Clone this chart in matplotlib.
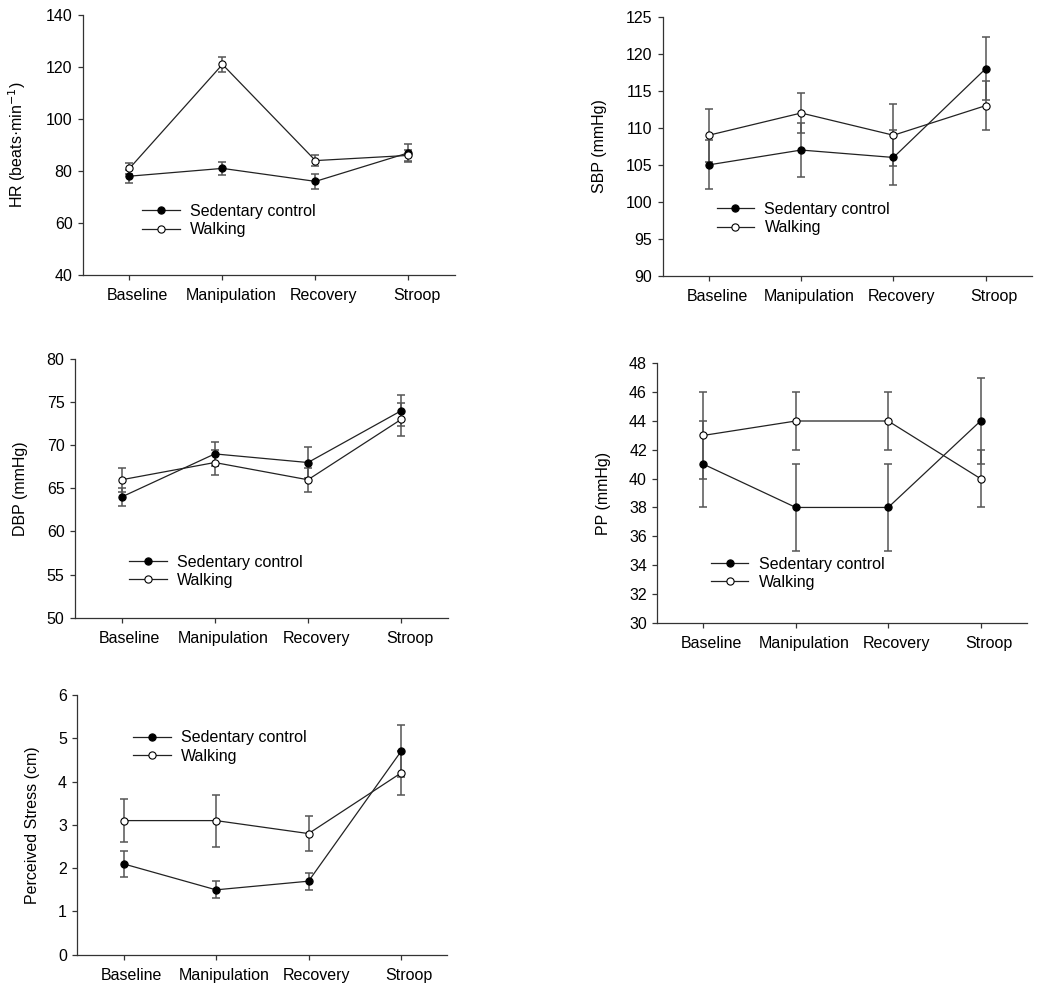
import matplotlib
matplotlib.use("Agg")
import matplotlib.pyplot as plt
from matplotlib.transforms import ScaledTranslation

plt.rcParams['font.family'] = ['Liberation Sans', 'DejaVu Sans']

phases = ["Baseline", "Manipulation", "Recovery", "Stroop"]
series_names = ["Sedentary control", "Walking"]

hr_sed = [78, 81, 76, 87]
hr_sed_err = [2.5, 2.5, 3.0, 3.4]
hr_walk = [81, 121, 84, 86]
hr_walk_err = [2.0, 3.0, 2.0, 2.0]

sbp_sed = [105, 107, 106, 118]
sbp_sed_err = [3.3, 3.7, 3.7, 4.2]
sbp_walk = [109, 112, 109, 113]
sbp_walk_err = [3.6, 2.7, 4.2, 3.3]

dbp_sed = [64, 69, 68, 74]
dbp_sed_err = [1.1, 1.4, 1.8, 1.8]
dbp_walk = [66, 68, 66, 73]
dbp_walk_err = [1.4, 1.4, 1.4, 1.9]

pp_sed = [41, 38, 38, 44]
pp_sed_err = [3, 3, 3, 3]
pp_walk = [43, 44, 44, 40]
pp_walk_err = [3, 2, 2, 2]

ps_sed = [2.1, 1.5, 1.7, 4.7]
ps_sed_err = [0.3, 0.2, 0.2, 0.6]
ps_walk = [3.1, 3.1, 2.8, 4.2]
ps_walk_err = [0.5, 0.6, 0.4, 0.5]

fig = plt.figure(figsize=(10.5, 10.01), dpi=100)

panels = [
    dict(rect=[0.0790, 0.7253, 0.3543, 0.2597], sed=hr_sed, sed_e=hr_sed_err,
         walk=hr_walk, walk_e=hr_walk_err, ylim=(40, 140), yticks=range(40, 141, 20),
         ylabel="HR (beats\u00b7min$^{-1}$)", lx=-0.148, leg=(0.159, 0.273)),
    dict(rect=[0.6311, 0.7243, 0.3517, 0.2590], sed=sbp_sed, sed_e=sbp_sed_err,
         walk=sbp_walk, walk_e=sbp_walk_err, ylim=(90, 125), yticks=range(90, 126, 5),
         ylabel="SBP (mmHg)", lx=-0.152, leg=(0.146, 0.285)),
    dict(rect=[0.0714, 0.3829, 0.3550, 0.2584], sed=dbp_sed, sed_e=dbp_sed_err,
         walk=dbp_walk, walk_e=dbp_walk_err, ylim=(50, 80), yticks=range(50, 81, 5),
         ylabel="DBP (mmHg)", lx=-0.125, leg=(0.145, 0.244)),
    dict(rect=[0.6260, 0.3779, 0.3518, 0.2591], sed=pp_sed, sed_e=pp_sed_err,
         walk=pp_walk, walk_e=pp_walk_err, ylim=(30, 48), yticks=range(30, 49, 2),
         ylabel="PP (mmHg)", lx=-0.126, leg=(0.145, 0.254)),
    dict(rect=[0.0736, 0.0462, 0.3524, 0.2594], sed=ps_sed, sed_e=ps_sed_err,
         walk=ps_walk, walk_e=ps_walk_err, ylim=(0, 6), yticks=range(0, 7, 1),
         ylabel="Perceived Stress (cm)", lx=-0.101, leg=(0.151, 0.864)),
]

x = [1, 2, 3, 4]
fs = 11.5
line_col = "#222222"
err_col = "#555555"

for p in panels:
    ax = fig.add_axes(p["rect"])
    for vals, errs, face, name in [(p["sed"], p["sed_e"], "black", series_names[0]),
                                   (p["walk"], p["walk_e"], "white", series_names[1])]:
        ax.errorbar(x, vals, yerr=errs, fmt="none", ecolor=err_col, elinewidth=1.1,
                    capsize=3.2, capthick=1.1, zorder=2)
        ax.plot(x, vals, color=line_col, lw=0.9, marker="o", markersize=5.2,
                markerfacecolor=face, markeredgecolor="black", markeredgewidth=0.8,
                label=name, zorder=3)
    ax.set_xlim(0.5, 4.5)
    ax.set_ylim(*p["ylim"])
    ax.set_yticks(list(p["yticks"]))
    ax.set_xticks(x)
    ax.set_xticklabels(phases)
    for s in ["top", "right"]:
        ax.spines[s].set_visible(False)
    for s in ["left", "bottom"]:
        ax.spines[s].set_color("#333333")
        ax.spines[s].set_linewidth(0.9)
    ax.tick_params(axis="both", direction="out", length=3.5, width=0.9, color="#333333",
                   labelsize=fs, labelcolor="black")
    ax.tick_params(axis="x", pad=6)
    ax.tick_params(axis="y", pad=4)
    off = ScaledTranslation(6 / 72, 0, fig.dpi_scale_trans)
    for lab in ax.get_xticklabels():
        lab.set_transform(lab.get_transform() + off)
    ax.set_ylabel(p["ylabel"], fontsize=fs)
    ax.yaxis.set_label_coords(p["lx"], 0.5)
    ax.legend(loc="upper left", bbox_to_anchor=p["leg"], frameon=False, fontsize=fs,
              borderpad=0, borderaxespad=0, handlelength=2.35, handletextpad=0.65,
              labelspacing=0.2)

fig.savefig("out.png", dpi=100)
